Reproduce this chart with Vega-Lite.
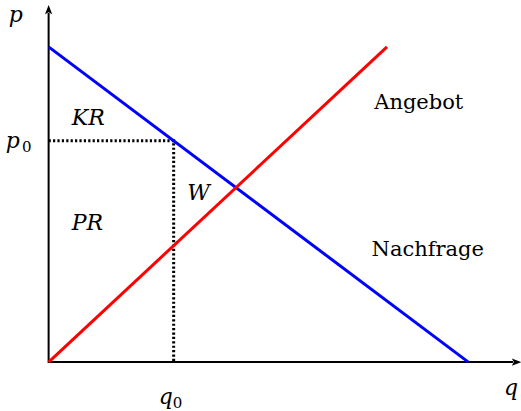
{
  "$schema": "https://vega.github.io/schema/vega-lite/v6.json",
  "width": 521,
  "height": 411,
  "autosize": {"type": "fit", "contains": "padding"},
  "padding": 0,
  "config": {"view": {"stroke": null}},
  "datasets": {
    "curves": [
      {"series": "Nachfrage", "x": 0, "y": 316},
      {"series": "Nachfrage", "x": 423, "y": 0},
      {"series": "Angebot", "x": 0, "y": 0},
      {"series": "Angebot", "x": 341, "y": 316}
    ],
    "axes": [
      {"x": 0, "y": 350, "o": 0},
      {"x": 0, "y": 0, "o": 1},
      {"x": 468, "y": 0, "o": 2}
    ],
    "dotted": [
      {"x": 0, "y": 222, "o": 0},
      {"x": 126, "y": 222, "o": 1},
      {"x": 126, "y": 0, "o": 2}
    ],
    "italic": [
      {"label": "p", "x": -33, "y": 341},
      {"label": "p", "x": -36, "y": 215},
      {"label": "q", "x": 466, "y": -33},
      {"label": "q", "x": 118, "y": -42},
      {"label": "KR", "x": 40, "y": 238},
      {"label": "PR", "x": 39, "y": 132},
      {"label": "W", "x": 151, "y": 163}
    ],
    "subs": [
      {"label": "0", "x": -22, "y": 211},
      {"label": "0", "x": 130, "y": -46}
    ],
    "names": [
      {"label": "Angebot", "x": 373, "y": 254},
      {"label": "Nachfrage", "x": 382, "y": 106}
    ]
  },
  "encoding": {
    "x": {"field": "x", "type": "quantitative", "scale": {"domain": [-49, 472], "nice": false, "zero": false}, "axis": null},
    "y": {"field": "y", "type": "quantitative", "scale": {"domain": [-48, 363], "nice": false, "zero": false}, "axis": null}
  },
  "layer": [
    {
      "data": {"name": "axes"},
      "mark": {"type": "line", "color": "black", "strokeWidth": 2},
      "encoding": {"order": {"field": "o"}}
    },
    {
      "data": {"name": "axes"},
      "transform": [{"filter": "datum.o == 0"}],
      "mark": {"type": "point", "shape": "M0,-1 L-0.45,0.15 L0,-0.1 L0.45,0.15 Z", "size": 256, "filled": true, "fill": "black", "fillOpacity": 1, "opacity": 1, "strokeWidth": 0}
    },
    {
      "data": {"name": "axes"},
      "transform": [{"filter": "datum.o == 2"}],
      "mark": {"type": "point", "shape": "M1,0 L-0.15,-0.45 L0.1,0 L-0.15,0.45 Z", "size": 256, "filled": true, "fill": "black", "fillOpacity": 1, "opacity": 1, "strokeWidth": 0}
    },
    {
      "data": {"name": "dotted"},
      "mark": {"type": "line", "color": "black", "strokeWidth": 3, "strokeDash": [2.2, 2.2]},
      "encoding": {"order": {"field": "o"}}
    },
    {
      "data": {"name": "curves"},
      "mark": {"type": "line", "strokeWidth": 3},
      "encoding": {
        "color": {"field": "series", "type": "nominal", "scale": {"domain": ["Angebot", "Nachfrage"], "range": ["#ff0000", "#0000ff"]}, "legend": null}
      }
    },
    {
      "data": {"name": "italic"},
      "mark": {"type": "text", "font": "DejaVu Serif", "fontStyle": "italic", "fontSize": 22, "align": "center", "baseline": "alphabetic", "color": "black"},
      "encoding": {"text": {"field": "label"}}
    },
    {
      "data": {"name": "subs"},
      "mark": {"type": "text", "font": "DejaVu Serif", "fontSize": 15, "align": "center", "baseline": "alphabetic", "color": "black"},
      "encoding": {"text": {"field": "label"}}
    },
    {
      "data": {"name": "names"},
      "mark": {"type": "text", "font": "DejaVu Serif", "fontSize": 21, "align": "center", "baseline": "alphabetic", "color": "black"},
      "encoding": {"text": {"field": "label"}}
    }
  ]
}
